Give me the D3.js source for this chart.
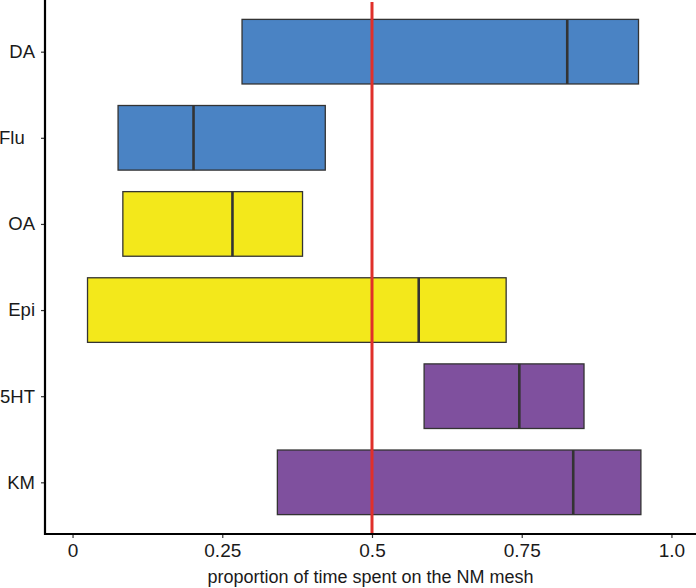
<!DOCTYPE html>
<html><head><meta charset="utf-8">
<script src="https://cdn.jsdelivr.net/npm/d3@7"></script>
<style>body{margin:0;background:#fff}svg{display:block}text{font-family:"Liberation Sans",Arial,Helvetica,sans-serif}</style>
</head><body><svg id="c" width="696" height="588"></svg>
<script>
const categories = ["DA", "Flu  ", "OA", "Epi", "5HT", "KM"];
const lowValues = [0.283, 0.076, 0.084, 0.025, 0.587, 0.342];
const medianValues = [0.826, 0.202, 0.267, 0.578, 0.746, 0.836];
const highValues = [0.945, 0.422, 0.384, 0.724, 0.854, 0.949];
const groupColors = ["#4a83c4", "#4a83c4", "#f3e81b", "#f3e81b", "#7f509e", "#7f509e"];
const xTicks = [0, 0.25, 0.5, 0.75, 1.0];
const xTickLabels = ["0", "0.25", "0.5", "0.75", "1.0"];
const refLine = 0.5;
const xTitle = "proportion of time spent on the NM mesh";

const svg = d3.select("#c");
const L = 45, R = 696, T = 0, B = 534;
const x = d3.scaleLinear().domain([-0.046, 1.041]).range([L, R]);
const y = d3.scalePoint().domain(categories).range([T, B]).padding(0.6);
const bh = y.step() * 0.75;

const rows = categories.map((c, i) => ({c, lo: lowValues[i], md: medianValues[i], hi: highValues[i], col: groupColors[i]}));

const g = svg.append("g");
g.selectAll("rect.bar").data(rows).join("rect").attr("class", "bar")
  .attr("x", d => x(d.lo)).attr("y", d => y(d.c) - bh / 2)
  .attr("width", d => x(d.hi) - x(d.lo)).attr("height", bh)
  .attr("fill", d => d.col).attr("stroke", "#333333").attr("stroke-width", 1.3);
g.selectAll("line.med").data(rows).join("line").attr("class", "med")
  .attr("x1", d => x(d.md)).attr("x2", d => x(d.md))
  .attr("y1", d => y(d.c) - bh / 2).attr("y2", d => y(d.c) + bh / 2)
  .attr("stroke", "#333333").attr("stroke-width", 2.6);

g.append("line").attr("x1", x(refLine)).attr("x2", x(refLine)).attr("y1", 2).attr("y2", B)
  .attr("stroke", "#e0302a").attr("stroke-width", 3);

// axes
const xa = svg.append("g").attr("transform", `translate(0,${B})`)
  .call(d3.axisBottom(x).tickValues(xTicks).tickFormat((d, i) => xTickLabels[i]).tickSize(4).tickPadding(6));
xa.select(".domain").remove();
xa.selectAll(".tick line").attr("stroke", "#333").attr("stroke-width", 1.2);
xa.selectAll(".tick text").attr("font-size", 19).attr("fill", "#1a1a1a").attr("font-family", "Liberation Sans, Arial, sans-serif");

const ya = svg.append("g").attr("transform", `translate(${L},0)`)
  .call(d3.axisLeft(y).tickSize(4).tickPadding(6));
ya.select(".domain").remove();
ya.selectAll(".tick line").attr("stroke", "#333").attr("stroke-width", 1.2);
ya.selectAll(".tick text").attr("font-size", 18.5).attr("fill", "#1a1a1a").style("white-space", "pre")
  .attr("font-family", "Liberation Sans, Arial, sans-serif");

svg.append("line").attr("x1", L).attr("x2", L).attr("y1", 0).attr("y2", B + 1).attr("stroke", "#000").attr("stroke-width", 2.2);
svg.append("line").attr("x1", L - 1).attr("x2", R).attr("y1", B).attr("y2", B).attr("stroke", "#000").attr("stroke-width", 2.2);

svg.append("text").attr("x", (L + R) / 2).attr("y", 583).attr("text-anchor", "middle")
  .attr("font-size", 18).attr("fill", "#1a1a1a").text(xTitle);
</script></body></html>
